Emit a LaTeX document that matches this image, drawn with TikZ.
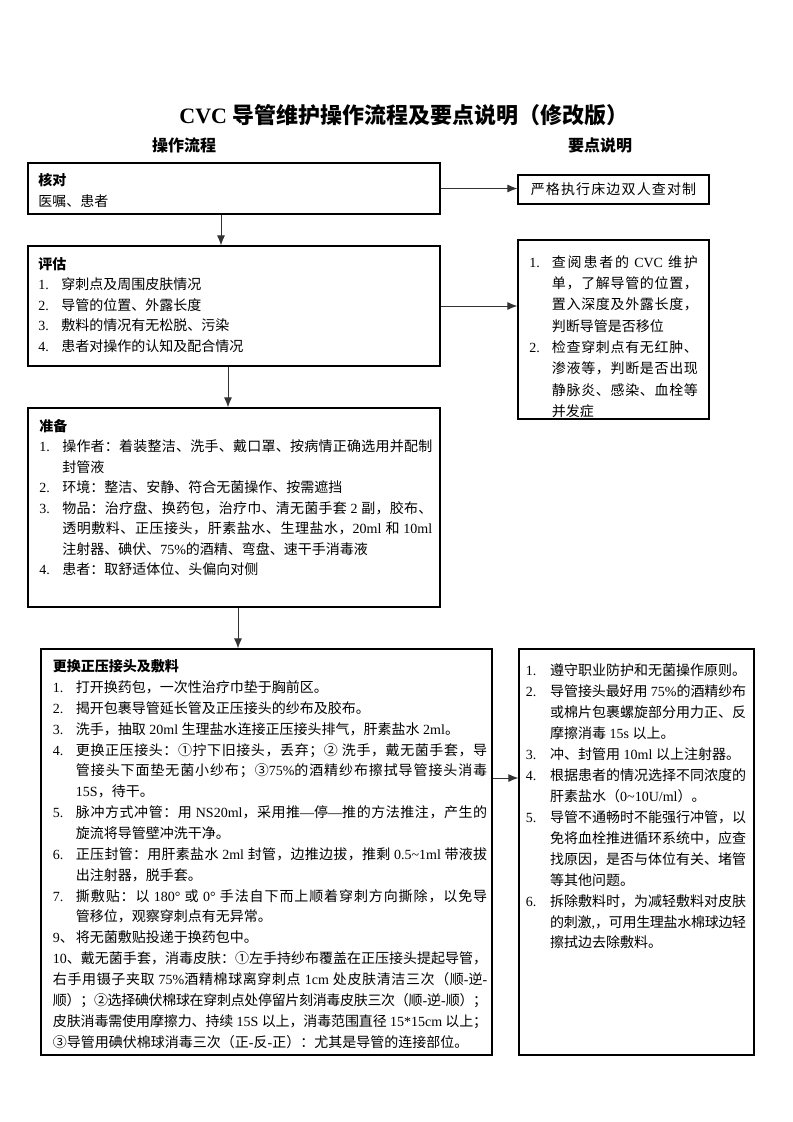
\documentclass[tikz,border=0pt]{standalone}
\usepackage{fontspec}
\setmainfont{Liberation Serif}
\newfontfamily\cjk{Noto Sans CJK SC}
\usetikzlibrary{arrows.meta,calc,fit}

% switch to the CJK font between Latin and Chinese characters
\XeTeXinterchartokenstate=1
\newXeTeXintercharclass\cjkclass
\newcount\cjkcode
\newcommand{\cjkrange}[2]{%
  \cjkcode=#1\relax
  \loop\ifnum\cjkcode<#2\relax
    \XeTeXcharclass\cjkcode=\cjkclass
    \advance\cjkcode by 1\relax
  \repeat}
\cjkrange{"2460}{"2500}
\cjkrange{"3000}{"3040}
\cjkrange{"4E00}{"A000}
\cjkrange{"FF00}{"FFF0}
\XeTeXinterchartoks 0 \cjkclass = {\cjk}
\XeTeXinterchartoks 4095 \cjkclass = {\cjk}
\XeTeXinterchartoks \cjkclass 0 = {\rmfamily}
\XeTeXinterchartoks \cjkclass 4095 = {\rmfamily}
\XeTeXinterchartoks \cjkclass \cjkclass = {\nobreak\hskip0pt plus 1.5pt minus .5pt}

% numbered line with hanging indent
\newcommand{\numline}[2][17.25pt]{\par\hangindent=#1\hangafter=1\strut\makebox[#1][l]{#2}}

\begin{document}
\begin{tikzpicture}[x=0.75pt, y=-0.75pt,
    box/.style={draw, line width=0.9pt, inner sep=0pt},
    txt/.style={anchor=north west, inner sep=0pt, align=justify,
      execute at begin node={\parindent=0pt\tolerance=10000\hbadness=10000}},
    link/.style={-{Latex[length=7.5pt,width=6pt]}, line width=0.75pt, draw=black!80}]

  \useasboundingbox (0,0) rectangle (793,1122);

  % Headings
  \node[anchor=base, font=\fontsize{16.5pt}{20pt}\selectfont\bfseries] (title) at (404,123) {CVC 导管维护操作流程及要点说明（修改版）};
  \node[anchor=base, font=\fontsize{12pt}{14pt}\selectfont\bfseries] (lhead) at (184,151) {操作流程};
  \node[anchor=base, font=\fontsize{12pt}{14pt}\selectfont\bfseries] (rhead) at (600,151) {要点说明};

  % Boxes
  \node[box, fit={(28,163) (440,214)}] (check) {};
  \node[box, fit={(518,175) (709,204)}] (rcheck) {};
  \node[box, fit={(28,246) (440,366)}] (assess) {};
  \node[box, fit={(518,240) (709,419)}] (rassess) {};
  \node[box, fit={(28,408) (440,607)}] (prep) {};
  \node[box, fit={(41,649) (492,1055)}] (swap) {};
  \node[box, fit={(519,649) (754,1055)}] (rswap) {};

  % Texts
  \node[txt, text width=300pt, font=\fontsize{10.5pt}{16pt}\selectfont] (checktext) at (38,170) {\strut\textbf{核对}\par\strut 医嘱、患者\par};

  \node[font=\fontsize{10.5pt}{12pt}\selectfont, inner sep=0pt] (rchecktext) at (rcheck.center) {\makebox[124pt][s]{严格执行床边双人查对制}};

  \node[txt, text width=300pt, font=\fontsize{10.5pt}{15.4pt}\selectfont] (assesstext) at (38,254.6) {\strut\textbf{评估}
    \numline{1.}穿刺点及周围皮肤情况
    \numline{2.}导管的位置、外露长度
    \numline{3.}敷料的情况有无松脱、污染
    \numline{4.}患者对操作的认知及配合情况\par};

  \node[txt, text width=126.5pt, font=\fontsize{10.5pt}{16pt}\selectfont] (rassesstext) at (529,245.4) {%
    \numline[17pt]{1.}查阅患者的 CVC 维护\linebreak 单，了解导管的位置，\linebreak 置入深度及外露长度，\linebreak 判断导管是否移位
    \numline[17pt]{2.}检查穿刺点有无红肿、\linebreak 渗液等，判断是否出现\linebreak 静脉炎、感染、血栓等\linebreak 并发症\par};

  \node[txt, text width=294.75pt, font=\fontsize{10.5pt}{15.4pt}\selectfont] (preptext) at (39,416.6) {\strut\textbf{准备}
    \numline{1.}操作者：着装整洁、洗手、戴口罩、按病情正确选用并配制\linebreak 封管液
    \numline{2.}环境：整洁、安静、符合无菌操作、按需遮挡
    \numline{3.}物品：治疗盘、换药包，治疗巾、清无菌手套 2 副，胶布、\linebreak 透明敷料、正压接头，肝素盐水、生理盐水，20ml 和 10ml\linebreak 注射器、碘伏、75\%的酒精、弯盘、速干手消毒液
    \numline{4.}患者：取舒适体位、头偏向对侧\par};

  \node[txt, text width=325.7pt, font=\fontsize{10.5pt}{15.65pt}\selectfont] (swaptext) at (52.7,656.7) {\strut\textbf{更换正压接头及敷料}
    \numline{1.}打开换药包，一次性治疗巾垫于胸前区。
    \numline{2.}揭开包裹导管延长管及正压接头的纱布及胶布。
    \numline{3.}洗手，抽取 20ml 生理盐水连接正压接头排气，肝素盐水 2ml。
    \numline{4.}更换正压接头：①拧下旧接头，丢弃；② 洗手，戴无菌手套，导\linebreak 管接头下面垫无菌小纱布；③75\%的酒精纱布擦拭导管接头消毒\linebreak 15S，待干。
    \numline{5.}脉冲方式冲管：用 NS20ml，采用推—停—推的方法推注，产生的\linebreak 旋流将导管壁冲洗干净。
    \numline{6.}正压封管：用肝素盐水 2ml 封管，边推边拔，推剩 0.5\textasciitilde 1ml 带液拔\linebreak 出注射器，脱手套。
    \numline{7.}撕敷贴：以 180° 或 0° 手法自下而上顺着穿刺方向撕除，以免导\linebreak 管移位，观察穿刺点有无异常。
    \numline{9、}将无菌敷贴投递于换药包中。
    \par\strut 10、戴无菌手套，消毒皮肤：①左手持纱布覆盖在正压接头提起导管，\linebreak 右手用镊子夹取 75\%酒精棉球离穿刺点 1cm 处皮肤清洁三次（顺-逆-\linebreak 顺）；②选择碘伏棉球在穿刺点处停留片刻消毒皮肤三次（顺-逆-顺）；\linebreak 皮肤消毒需使用摩擦力、持续 15S 以上，消毒范围直径 15*15cm 以上；\linebreak ③导管用碘伏棉球消毒三次（正-反-正）：尤其是导管的连接部位。\par};

  \node[txt, text width=165.2pt, font=\fontsize{10.5pt}{15.7pt}\selectfont] (rswaptext) at (525.7,654.6) {%
    \numline[18.2pt]{1.}遵守职业防护和无菌操作原则。
    \numline[18.2pt]{2.}导管接头最好用 75\%的酒精纱布\linebreak 或棉片包裹螺旋部分用力正、反\linebreak 摩擦消毒 15s 以上。
    \numline[18.2pt]{3.}冲、封管用 10ml 以上注射器。
    \numline[18.2pt]{4.}根据患者的情况选择不同浓度的\linebreak 肝素盐水（0\textasciitilde 10U/ml）。
    \numline[18.2pt]{5.}导管不通畅时不能强行冲管，以\linebreak 免将血栓推进循环系统中，应查\linebreak 找原因，是否与体位有关、堵管\linebreak 等其他问题。
    \numline[18.2pt]{6.}拆除敷料时，为减轻敷料对皮肤\linebreak 的刺激,，可用生理盐水棉球边轻\linebreak 擦拭边去除敷料。\par};

  % Edges
  \coordinate (stem1) at (221,0);
  \coordinate (stem2) at (228,0);
  \coordinate (stem3) at (238,0);
  \coordinate (tie4) at (0,778);
  \draw[link] (check.east) -- (check.east -| rcheck.west);
  \draw[link] (check.south -| stem1) -- (assess.north -| stem1);
  \draw[link] (assess.east) -- (assess.east -| rassess.west);
  \draw[link] (assess.south -| stem2) -- (prep.north -| stem2);
  \draw[link] (prep.south -| stem3) -- (swap.north -| stem3);
  \draw[link] (swap.east |- tie4) -- (rswap.west |- tie4);

\end{tikzpicture}
\end{document}
